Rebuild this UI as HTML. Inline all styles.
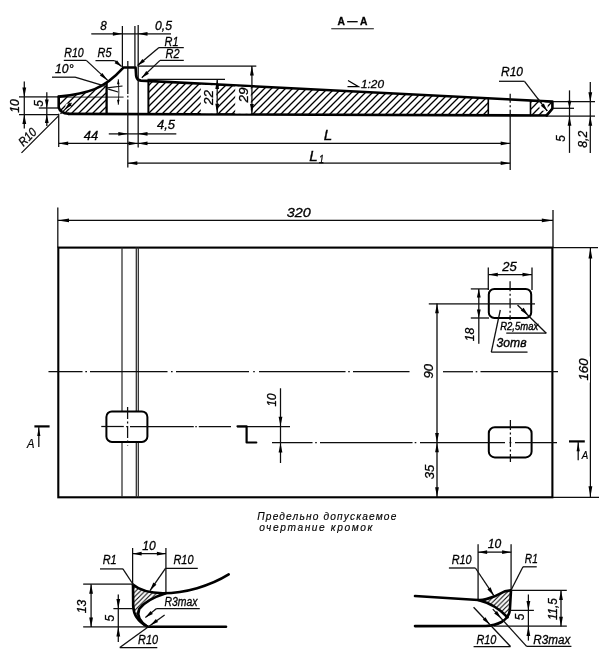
<!DOCTYPE html>
<html><head><meta charset="utf-8"><title>Drawing</title>
<style>
html,body{margin:0;padding:0;background:#fff;}
svg{display:block;font-family:"Liberation Sans",sans-serif;fill:#000;}
</style></head><body>
<svg width="605" height="656" viewBox="0 0 605 656">
<rect width="605" height="656" fill="#fff"/>
<filter id="soft" x="0" y="0" width="605" height="656" filterUnits="userSpaceOnUse"><feGaussianBlur stdDeviation="0.38"/></filter>
<g filter="url(#soft)">
<defs>
<pattern id="h" patternUnits="userSpaceOnUse" width="7" height="7" x="3" y="0"><path d="M-1,8 L8,-1 M-1,1 L1,-1 M6,8 L8,6" stroke="#000" stroke-width="1.3"/></pattern>
<pattern id="h2" patternUnits="userSpaceOnUse" width="4.6" height="4.6"><path d="M-1,5.6 L5.6,-1 M-1,1 L1,-1 M3.6,5.6 L5.6,3.6" stroke="#000" stroke-width="1.05"/></pattern>
</defs>
<path d="M58.7,96.6 Q82.5,94 94.7,89.1 Q101,86.6 106.6,83.6 L106.6,113.96724696356274 L68.5,113.83097165991903 Q60.2,113 58.7,107.3 Z" fill="url(#h)"/>
<path d="M148.4,81.0 L488.3,98.33153465346534 L488.3,115.28078947368421 L148.4,114.1110931174089 Z" fill="url(#h)"/>
<path d="M530.5,100.48331683168317 L552.4,101.6 L552.4,108.6 L546.7,115.48176113360324 L530.5,115.42601214574898 Z" fill="url(#h)"/>
<path d="M68.5,113.83097165991903 L546.7,115.48176113360324" stroke="#000" stroke-width="2.6" fill="none" stroke-linejoin="round" stroke-linecap="round" />
<path d="M68.5,113.83097165991903 Q60.2,113 58.7,107.3 L58.7,96.7" stroke="#000" stroke-width="2.6" fill="none" stroke-linejoin="round" stroke-linecap="round" />
<path d="M58.7,96.6 Q82.5,94 94.7,89.1 Q109.25,83.3 122.4,68.7 L123.4,67.5 L135.6,67.5 L136.1,75.5 Q136.6,80.2 141,80.6 L552.4,101.6 L552.4,108.6 L546.7,115.48176113360324" stroke="#000" stroke-width="2.6" fill="none" stroke-linejoin="round" stroke-linecap="round" />
<path d="M106.6,83.6 L106.6,113.96724696356274" stroke="#000" stroke-width="2.3" fill="none" stroke-linejoin="round" stroke-linecap="round" />
<path d="M148.4,81.0 L148.4,114.1110931174089" stroke="#000" stroke-width="2.0" fill="none" stroke-linejoin="round" stroke-linecap="round" />
<path d="M488.3,98.33153465346534 L488.3,115.28078947368421" stroke="#000" stroke-width="1.6" fill="none" stroke-linejoin="round" stroke-linecap="round" />
<path d="M530.5,100.48331683168317 L530.5,115.42601214574898" stroke="#000" stroke-width="1.6" fill="none" stroke-linejoin="round" stroke-linecap="round" />
<line x1="122.4" y1="26" x2="122.4" y2="67" stroke="#0a0a0a" stroke-width="1.25" stroke-linecap="butt"/>
<line x1="134.9" y1="26" x2="134.9" y2="67" stroke="#0a0a0a" stroke-width="1.25" stroke-linecap="butt"/>
<line x1="138.2" y1="25" x2="138.2" y2="147.5" stroke="#0a0a0a" stroke-width="1.25" stroke-linecap="butt"/>
<line x1="127.8" y1="61" x2="127.8" y2="94" stroke="#0a0a0a" stroke-width="1.25" stroke-linecap="butt"/>
<line x1="127.8" y1="95.8" x2="127.8" y2="97.4" stroke="#0a0a0a" stroke-width="1.25" stroke-linecap="butt"/>
<line x1="127.8" y1="99.5" x2="127.8" y2="167.5" stroke="#0a0a0a" stroke-width="1.25" stroke-linecap="butt"/>
<line x1="91.3" y1="33.8" x2="171" y2="33.8" stroke="#0a0a0a" stroke-width="1.25" stroke-linecap="butt"/>
<polygon points="122.40,33.80 112.90,35.70 112.90,31.90" fill="#000"/>
<polygon points="138.00,33.80 147.50,31.90 147.50,35.70" fill="#000"/>
<text x="103.5" y="30.48" font-size="12.5" font-style="italic" font-weight="normal" text-anchor="middle" stroke="#000" stroke-width="0.3" textLength="6.5" lengthAdjust="spacingAndGlyphs">8</text>
<text x="163.5" y="29.98" font-size="12.5" font-style="italic" font-weight="normal" text-anchor="middle" stroke="#000" stroke-width="0.3" textLength="17" lengthAdjust="spacingAndGlyphs">0,5</text>
<line x1="159" y1="47.6" x2="183.8" y2="47.6" stroke="#0a0a0a" stroke-width="1.25" stroke-linecap="butt"/>
<line x1="159" y1="47.6" x2="137.6" y2="65.6" stroke="#0a0a0a" stroke-width="1.25" stroke-linecap="butt"/>
<polygon points="137.60,65.60 142.39,58.92 144.88,61.79" fill="#000"/>
<text x="171.5" y="45.68" font-size="12.5" font-style="italic" font-weight="normal" text-anchor="middle" stroke="#000" stroke-width="0.3" textLength="14" lengthAdjust="spacingAndGlyphs">R1</text>
<line x1="160" y1="60.4" x2="183.8" y2="60.4" stroke="#0a0a0a" stroke-width="1.25" stroke-linecap="butt"/>
<line x1="160" y1="60.4" x2="141.8" y2="77.8" stroke="#0a0a0a" stroke-width="1.25" stroke-linecap="butt"/>
<polygon points="141.80,77.80 146.27,70.90 148.90,73.65" fill="#000"/>
<text x="172.5" y="58.48" font-size="12.5" font-style="italic" font-weight="normal" text-anchor="middle" stroke="#000" stroke-width="0.3" textLength="14" lengthAdjust="spacingAndGlyphs">R2</text>
<line x1="63.8" y1="60.4" x2="86.3" y2="60.4" stroke="#0a0a0a" stroke-width="1.25" stroke-linecap="butt"/>
<line x1="86.3" y1="60.4" x2="107.7" y2="80.4" stroke="#0a0a0a" stroke-width="1.25" stroke-linecap="butt"/>
<polygon points="107.70,80.40 99.90,75.57 102.35,72.94" fill="#000"/>
<text x="74" y="56.98" font-size="12.5" font-style="italic" font-weight="normal" text-anchor="middle" stroke="#000" stroke-width="0.3" textLength="19.5" lengthAdjust="spacingAndGlyphs">R10</text>
<line x1="95.5" y1="60.6" x2="114.5" y2="60.6" stroke="#0a0a0a" stroke-width="1.25" stroke-linecap="butt"/>
<line x1="114.5" y1="60.6" x2="121.6" y2="66.4" stroke="#0a0a0a" stroke-width="1.25" stroke-linecap="butt"/>
<polygon points="121.60,66.40 114.59,63.13 116.99,60.18" fill="#000"/>
<text x="104.5" y="56.98" font-size="12.5" font-style="italic" font-weight="normal" text-anchor="middle" stroke="#000" stroke-width="0.3" textLength="14" lengthAdjust="spacingAndGlyphs">R5</text>
<line x1="52" y1="77.2" x2="75" y2="77.2" stroke="#0a0a0a" stroke-width="1.25" stroke-linecap="butt"/>
<line x1="75" y1="77.2" x2="105" y2="86.2" stroke="#0a0a0a" stroke-width="1.25" stroke-linecap="butt"/>
<line x1="107" y1="87.9" x2="122.5" y2="86" stroke="#0a0a0a" stroke-width="1.25" stroke-linecap="butt"/>
<line x1="108.3" y1="89.1" x2="118.2" y2="92" stroke="#0a0a0a" stroke-width="1.25" stroke-linecap="butt"/>
<line x1="58.7" y1="97.1" x2="123.6" y2="97.1" stroke="#0a0a0a" stroke-width="0.9" stroke-linecap="butt"/>
<path d="M118.3,79.2 Q119.4,92 118.3,104.8" stroke="#111" stroke-width="0.9" fill="none"/>
<polygon points="118.30,79.20 119.60,84.20 117.00,84.20" fill="#000"/>
<polygon points="118.30,104.80 117.00,99.80 119.60,99.80" fill="#000"/>
<text x="64.3" y="73.47" font-size="12.5" font-style="italic" font-weight="normal" text-anchor="middle" stroke="#000" stroke-width="0.3" textLength="18.5" lengthAdjust="spacingAndGlyphs">10°</text>
<line x1="138" y1="66.0" x2="256.3" y2="66.0" stroke="#0a0a0a" stroke-width="1.25" stroke-linecap="butt"/>
<line x1="147.5" y1="79.4" x2="225" y2="79.4" stroke="#0a0a0a" stroke-width="1.25" stroke-linecap="butt"/>
<path d="M200.8,84.67188118811882 L216.4,85.46732673267327 L216.4,113.34372469635628 L200.8,113.28866396761133 Z" fill="#fff"/>
<text x="208.4" y="102.07" font-size="12.5" font-style="italic" font-weight="normal" text-anchor="middle" stroke="#000" stroke-width="0.3" textLength="15" lengthAdjust="spacingAndGlyphs" transform="rotate(-90 208.4 97.6)">22</text>
<path d="M235.2,86.4259405940594 L250.8,87.22138613861387 L250.8,113.46072874493927 L235.2,113.40910931174089 Z" fill="#fff"/>
<text x="243.7" y="99.47" font-size="12.5" font-style="italic" font-weight="normal" text-anchor="middle" stroke="#000" stroke-width="0.3" textLength="15" lengthAdjust="spacingAndGlyphs" transform="rotate(-90 243.7 95)">29</text>
<line x1="217.2" y1="79.4" x2="217.2" y2="114.35060728744939" stroke="#0a0a0a" stroke-width="1.25" stroke-linecap="butt"/>
<polygon points="217.20,79.40 219.10,88.90 215.30,88.90" fill="#000"/>
<polygon points="217.20,113.35 215.30,103.85 219.10,103.85" fill="#000"/>
<line x1="251.9" y1="66" x2="251.9" y2="114.46933198380566" stroke="#0a0a0a" stroke-width="1.25" stroke-linecap="butt"/>
<polygon points="251.90,66.00 253.80,75.50 250.00,75.50" fill="#000"/>
<polygon points="251.90,113.47 250.00,103.97 253.80,103.97" fill="#000"/>
<path d="M348,80.6 L358.5,86.7 L347.5,86.7" stroke="#000" stroke-width="1.2" fill="none"/>
<text x="372.5" y="87.62" font-size="11.5" font-style="italic" font-weight="normal" text-anchor="middle" stroke="#000" stroke-width="0.3" textLength="23" lengthAdjust="spacingAndGlyphs">1:20</text>
<text x="352.5" y="25.06" font-size="10.5" font-style="normal" font-weight="bold" text-anchor="middle" stroke="#000" stroke-width="0.3" textLength="30" lengthAdjust="spacingAndGlyphs">A — A</text>
<line x1="331.3" y1="28.8" x2="373.8" y2="28.8" stroke="#0a0a0a" stroke-width="1.1" stroke-linecap="butt"/>
<line x1="19" y1="96.9" x2="58.7" y2="96.9" stroke="#0a0a0a" stroke-width="1.25" stroke-linecap="butt"/>
<line x1="19" y1="114.6" x2="58.7" y2="114.6" stroke="#0a0a0a" stroke-width="1.25" stroke-linecap="butt"/>
<line x1="24.3" y1="81.5" x2="24.3" y2="128.6" stroke="#0a0a0a" stroke-width="1.25" stroke-linecap="butt"/>
<polygon points="24.30,96.90 22.40,87.40 26.20,87.40" fill="#000"/>
<polygon points="24.30,114.60 26.20,124.10 22.40,124.10" fill="#000"/>
<text x="14.3" y="110.47" font-size="12.5" font-style="italic" font-weight="normal" text-anchor="middle" stroke="#000" stroke-width="0.3" textLength="13.5" lengthAdjust="spacingAndGlyphs" transform="rotate(-90 14.3 106)">10</text>
<line x1="38.8" y1="108" x2="58.7" y2="108" stroke="#0a0a0a" stroke-width="1.25" stroke-linecap="butt"/>
<line x1="46.8" y1="92.2" x2="46.8" y2="126" stroke="#0a0a0a" stroke-width="1.25" stroke-linecap="butt"/>
<polygon points="46.80,108.00 44.90,99.50 48.70,99.50" fill="#000"/>
<polygon points="46.80,114.60 48.70,123.10 44.90,123.10" fill="#000"/>
<text x="38.5" y="107.97" font-size="12.5" font-style="italic" font-weight="normal" text-anchor="middle" stroke="#000" stroke-width="0.3" textLength="6.5" lengthAdjust="spacingAndGlyphs" transform="rotate(-90 38.5 103.5)">5</text>
<line x1="21.5" y1="152.9" x2="58.5" y2="115.9" stroke="#0a0a0a" stroke-width="1.25" stroke-linecap="butt"/>
<circle cx="68" cy="106" r="2.6" fill="#fff"/>
<line x1="60.5" y1="113.9" x2="71.5" y2="102.9" stroke="#0a0a0a" stroke-width="1.25" stroke-linecap="butt"/>
<polygon points="64.80,109.60 69.04,102.53 71.87,105.36" fill="#000"/>
<text x="27.3" y="141.38" font-size="12.5" font-style="italic" font-weight="normal" text-anchor="middle" stroke="#000" stroke-width="0.3" textLength="19.5" lengthAdjust="spacingAndGlyphs" transform="rotate(-45 27.3 136.9)">R10</text>
<line x1="58.7" y1="113.80240890688259" x2="58.7" y2="147" stroke="#0a0a0a" stroke-width="1.25" stroke-linecap="butt"/>
<line x1="58.7" y1="143.4" x2="510.2" y2="143.4" stroke="#0a0a0a" stroke-width="1.25" stroke-linecap="butt"/>
<polygon points="58.70,143.40 68.20,141.50 68.20,145.30" fill="#000"/>
<polygon points="138.00,143.40 128.50,145.30 128.50,141.50" fill="#000"/>
<polygon points="138.00,143.40 147.50,141.50 147.50,145.30" fill="#000"/>
<polygon points="510.20,143.40 500.70,145.30 500.70,141.50" fill="#000"/>
<text x="91" y="140.07" font-size="12.5" font-style="italic" font-weight="normal" text-anchor="middle" stroke="#000" stroke-width="0.3" textLength="14.5" lengthAdjust="spacingAndGlyphs">44</text>
<line x1="108.8" y1="133.8" x2="176.3" y2="133.8" stroke="#0a0a0a" stroke-width="1.25" stroke-linecap="butt"/>
<polygon points="127.80,133.80 118.30,135.70 118.30,131.90" fill="#000"/>
<polygon points="138.00,133.80 147.50,131.90 147.50,135.70" fill="#000"/>
<text x="166" y="129.47" font-size="12.5" font-style="italic" font-weight="normal" text-anchor="middle" stroke="#000" stroke-width="0.3" textLength="18" lengthAdjust="spacingAndGlyphs">4,5</text>
<line x1="127.8" y1="163.2" x2="510.2" y2="163.2" stroke="#0a0a0a" stroke-width="1.25" stroke-linecap="butt"/>
<polygon points="127.80,163.20 137.30,161.30 137.30,165.10" fill="#000"/>
<polygon points="510.20,163.20 500.70,165.10 500.70,161.30" fill="#000"/>
<text x="328" y="139.87" font-size="15" font-style="italic" font-weight="normal" text-anchor="middle" stroke="#000" stroke-width="0.35" textLength="8.5" lengthAdjust="spacingAndGlyphs">L</text>
<text x="313.5" y="160.87" font-size="15" font-style="italic" font-weight="normal" text-anchor="middle" stroke="#000" stroke-width="0.35" textLength="8.5" lengthAdjust="spacingAndGlyphs">L</text>
<text x="321.5" y="163.26" font-size="10.5" font-style="italic" font-weight="normal" text-anchor="middle" stroke="#000" stroke-width="0.3" textLength="5" lengthAdjust="spacingAndGlyphs">1</text>
<line x1="510.2" y1="93.8" x2="510.2" y2="116" stroke="#0a0a0a" stroke-width="1.25" stroke-linecap="butt" stroke-dasharray="9 2.5 2 2.5"/>
<line x1="510.2" y1="116" x2="510.2" y2="170" stroke="#0a0a0a" stroke-width="1.25" stroke-linecap="butt"/>
<line x1="552.6" y1="101.7" x2="595" y2="101.7" stroke="#0a0a0a" stroke-width="1.25" stroke-linecap="butt"/>
<line x1="552.6" y1="108.3" x2="574" y2="108.3" stroke="#0a0a0a" stroke-width="1.25" stroke-linecap="butt"/>
<line x1="546.7" y1="116.2" x2="595" y2="116.2" stroke="#0a0a0a" stroke-width="1.25" stroke-linecap="butt"/>
<line x1="569.5" y1="90.4" x2="569.5" y2="152.9" stroke="#0a0a0a" stroke-width="1.25" stroke-linecap="butt"/>
<polygon points="569.50,108.30 567.60,100.80 571.40,100.80" fill="#000"/>
<polygon points="569.50,116.20 571.40,125.70 567.60,125.70" fill="#000"/>
<line x1="590.3" y1="82" x2="590.3" y2="152.9" stroke="#0a0a0a" stroke-width="1.25" stroke-linecap="butt"/>
<polygon points="590.30,101.70 588.40,92.20 592.20,92.20" fill="#000"/>
<polygon points="590.30,116.20 592.20,125.70 588.40,125.70" fill="#000"/>
<text x="560.2" y="142.97" font-size="12.5" font-style="italic" font-weight="normal" text-anchor="middle" stroke="#000" stroke-width="0.3" textLength="6.5" lengthAdjust="spacingAndGlyphs" transform="rotate(-90 560.2 138.5)">5</text>
<text x="582.8" y="143.78" font-size="12.5" font-style="italic" font-weight="normal" text-anchor="middle" stroke="#000" stroke-width="0.3" textLength="17" lengthAdjust="spacingAndGlyphs" transform="rotate(-90 582.8 139.3)">8,2</text>
<line x1="499" y1="81.3" x2="524.5" y2="81.3" stroke="#0a0a0a" stroke-width="1.25" stroke-linecap="butt"/>
<line x1="524.5" y1="81.3" x2="547.2" y2="110.9" stroke="#0a0a0a" stroke-width="1.25" stroke-linecap="butt"/>
<circle cx="543.5" cy="106.5" r="4.2" fill="#fff"/>
<line x1="538" y1="98.9" x2="547.2" y2="110.9" stroke="#0a0a0a" stroke-width="1.25" stroke-linecap="butt"/>
<polygon points="547.20,110.90 540.82,105.71 543.84,103.40" fill="#000"/>
<text x="512" y="75.97" font-size="12.5" font-style="italic" font-weight="normal" text-anchor="middle" stroke="#000" stroke-width="0.3" textLength="22" lengthAdjust="spacingAndGlyphs">R10</text>
<rect x="58.3" y="247.6" width="494.09999999999997" height="249.70000000000002" fill="none" stroke="#000" stroke-width="2.1"/>
<line x1="122" y1="247.6" x2="122" y2="497.3" stroke="#2a2a2a" stroke-width="1.25" stroke-linecap="butt"/>
<line x1="136.3" y1="247.6" x2="136.3" y2="497.3" stroke="#2a2a2a" stroke-width="1.25" stroke-linecap="butt"/>
<line x1="138.3" y1="247.6" x2="138.3" y2="497.3" stroke="#2a2a2a" stroke-width="1.25" stroke-linecap="butt"/>
<rect x="106.4" y="411.4" width="41.0" height="30.5" rx="5.5" ry="5.5" fill="#fff" stroke="#000" stroke-width="2.0"/>
<rect x="488.8" y="288.9" width="42.400000000000034" height="29.0" rx="5.5" ry="5.5" fill="#fff" stroke="#000" stroke-width="2.0"/>
<rect x="488.8" y="427.2" width="42.80000000000001" height="30.19999999999999" rx="6" ry="6" fill="#fff" stroke="#000" stroke-width="2.0"/>
<line x1="48.5" y1="371.7" x2="82.5" y2="371.7" stroke="#0a0a0a" stroke-width="1.25" stroke-linecap="butt"/>
<line x1="85.3" y1="371.7" x2="87" y2="371.7" stroke="#0a0a0a" stroke-width="1.25" stroke-linecap="butt"/>
<line x1="90" y1="371.7" x2="167.5" y2="371.7" stroke="#0a0a0a" stroke-width="1.25" stroke-linecap="butt"/>
<line x1="171" y1="371.7" x2="172.6" y2="371.7" stroke="#0a0a0a" stroke-width="1.25" stroke-linecap="butt"/>
<line x1="176" y1="371.7" x2="249" y2="371.7" stroke="#0a0a0a" stroke-width="1.25" stroke-linecap="butt"/>
<line x1="253.2" y1="371.7" x2="254.8" y2="371.7" stroke="#0a0a0a" stroke-width="1.25" stroke-linecap="butt"/>
<line x1="259" y1="371.7" x2="345.5" y2="371.7" stroke="#0a0a0a" stroke-width="1.25" stroke-linecap="butt"/>
<line x1="348.2" y1="371.7" x2="349.8" y2="371.7" stroke="#0a0a0a" stroke-width="1.25" stroke-linecap="butt"/>
<line x1="353" y1="371.7" x2="409.5" y2="371.7" stroke="#0a0a0a" stroke-width="1.25" stroke-linecap="butt"/>
<line x1="443" y1="371.7" x2="473" y2="371.7" stroke="#0a0a0a" stroke-width="1.25" stroke-linecap="butt"/>
<line x1="475.7" y1="371.7" x2="477.3" y2="371.7" stroke="#0a0a0a" stroke-width="1.25" stroke-linecap="butt"/>
<line x1="480.5" y1="371.7" x2="558" y2="371.7" stroke="#0a0a0a" stroke-width="1.25" stroke-linecap="butt"/>
<line x1="57.8" y1="207.5" x2="57.8" y2="247.6" stroke="#0a0a0a" stroke-width="1.25" stroke-linecap="butt"/>
<line x1="553" y1="210" x2="553" y2="247.6" stroke="#0a0a0a" stroke-width="1.25" stroke-linecap="butt"/>
<line x1="57.8" y1="220.4" x2="553" y2="220.4" stroke="#0a0a0a" stroke-width="1.25" stroke-linecap="butt"/>
<polygon points="58.00,220.40 69.00,218.50 69.00,222.30" fill="#000"/>
<polygon points="552.80,220.40 541.80,222.30 541.80,218.50" fill="#000"/>
<text x="298.8" y="216.65" font-size="13" font-style="italic" font-weight="normal" text-anchor="middle" stroke="#000" stroke-width="0.3" textLength="24" lengthAdjust="spacingAndGlyphs">320</text>
<line x1="553" y1="247.6" x2="598" y2="247.6" stroke="#0a0a0a" stroke-width="1.25" stroke-linecap="butt"/>
<line x1="553" y1="497.3" x2="599" y2="497.3" stroke="#0a0a0a" stroke-width="1.25" stroke-linecap="butt"/>
<line x1="590.4" y1="247.6" x2="590.4" y2="497.3" stroke="#0a0a0a" stroke-width="1.25" stroke-linecap="butt"/>
<polygon points="590.40,247.60 592.30,258.60 588.50,258.60" fill="#000"/>
<polygon points="590.40,497.30 588.50,486.30 592.30,486.30" fill="#000"/>
<rect x="570.5" y="363.0" width="26" height="13" fill="#fff" transform="rotate(-90 583.5 369.5)"/>
<text x="583.5" y="374.15" font-size="13" font-style="italic" font-weight="normal" text-anchor="middle" stroke="#000" stroke-width="0.3" textLength="22" lengthAdjust="spacingAndGlyphs" transform="rotate(-90 583.5 369.5)">160</text>
<line x1="101.3" y1="426.5" x2="123.8" y2="426.5" stroke="#0a0a0a" stroke-width="1.25" stroke-linecap="butt"/>
<line x1="126.2" y1="426.5" x2="127.8" y2="426.5" stroke="#0a0a0a" stroke-width="1.25" stroke-linecap="butt"/>
<line x1="130" y1="426.5" x2="193.8" y2="426.5" stroke="#0a0a0a" stroke-width="1.25" stroke-linecap="butt"/>
<line x1="195.3" y1="426.5" x2="196.8" y2="426.5" stroke="#0a0a0a" stroke-width="1.25" stroke-linecap="butt"/>
<line x1="198.8" y1="426.5" x2="231" y2="426.5" stroke="#0a0a0a" stroke-width="1.25" stroke-linecap="butt"/>
<line x1="237" y1="426.5" x2="290" y2="426.5" stroke="#0a0a0a" stroke-width="1.25" stroke-linecap="butt"/>
<line x1="127.6" y1="407" x2="127.6" y2="445.5" stroke="#0a0a0a" stroke-width="1.25" stroke-linecap="butt" stroke-dasharray="12 2.5 2 2.5"/>
<path d="M237.5,426.3 H246.6 V442.5 H256.3" stroke="#000" stroke-width="2.2" fill="none" stroke-linejoin="round" stroke-linecap="round" />
<line x1="272" y1="442.6" x2="312.5" y2="442.6" stroke="#0a0a0a" stroke-width="1.25" stroke-linecap="butt"/>
<line x1="315.2" y1="442.6" x2="316.8" y2="442.6" stroke="#0a0a0a" stroke-width="1.25" stroke-linecap="butt"/>
<line x1="320" y1="442.6" x2="412.5" y2="442.6" stroke="#0a0a0a" stroke-width="1.25" stroke-linecap="butt"/>
<line x1="414.7" y1="442.6" x2="416.3" y2="442.6" stroke="#0a0a0a" stroke-width="1.25" stroke-linecap="butt"/>
<line x1="420" y1="442.6" x2="505" y2="442.6" stroke="#0a0a0a" stroke-width="1.25" stroke-linecap="butt"/>
<line x1="509.5" y1="442.6" x2="511.3" y2="442.6" stroke="#0a0a0a" stroke-width="1.25" stroke-linecap="butt"/>
<line x1="515" y1="442.6" x2="557" y2="442.6" stroke="#0a0a0a" stroke-width="1.25" stroke-linecap="butt"/>
<line x1="280.5" y1="388.3" x2="280.5" y2="463" stroke="#0a0a0a" stroke-width="1.25" stroke-linecap="butt"/>
<polygon points="280.50,426.30 278.60,416.80 282.40,416.80" fill="#000"/>
<polygon points="280.50,443.00 282.40,452.50 278.60,452.50" fill="#000"/>
<text x="272" y="404.48" font-size="12.5" font-style="italic" font-weight="normal" text-anchor="middle" stroke="#000" stroke-width="0.3" textLength="13" lengthAdjust="spacingAndGlyphs" transform="rotate(-90 272 400)">10</text>
<line x1="488.3" y1="267.5" x2="488.3" y2="290" stroke="#0a0a0a" stroke-width="1.25" stroke-linecap="butt"/>
<line x1="532" y1="267.5" x2="532" y2="290" stroke="#0a0a0a" stroke-width="1.25" stroke-linecap="butt"/>
<line x1="488.3" y1="274.6" x2="532" y2="274.6" stroke="#0a0a0a" stroke-width="1.25" stroke-linecap="butt"/>
<polygon points="488.30,274.60 497.80,272.70 497.80,276.50" fill="#000"/>
<polygon points="532.00,274.60 522.50,276.50 522.50,272.70" fill="#000"/>
<text x="509.5" y="270.78" font-size="12.5" font-style="italic" font-weight="normal" text-anchor="middle" stroke="#000" stroke-width="0.3" textLength="14.5" lengthAdjust="spacingAndGlyphs">25</text>
<line x1="428.8" y1="303.8" x2="535" y2="303.8" stroke="#0a0a0a" stroke-width="1.25" stroke-linecap="butt"/>
<line x1="510.1" y1="281.3" x2="510.1" y2="320" stroke="#0a0a0a" stroke-width="1.25" stroke-linecap="butt" stroke-dasharray="10 2.5 2 2.5"/>
<line x1="470.8" y1="288.9" x2="489" y2="288.9" stroke="#0a0a0a" stroke-width="1.25" stroke-linecap="butt"/>
<line x1="470.8" y1="318" x2="489" y2="318" stroke="#0a0a0a" stroke-width="1.25" stroke-linecap="butt"/>
<line x1="478.8" y1="288.9" x2="478.8" y2="343.8" stroke="#0a0a0a" stroke-width="1.25" stroke-linecap="butt"/>
<polygon points="478.80,288.90 480.70,297.40 476.90,297.40" fill="#000"/>
<polygon points="478.80,318.00 476.90,309.50 480.70,309.50" fill="#000"/>
<text x="470" y="338.98" font-size="12.5" font-style="italic" font-weight="normal" text-anchor="middle" stroke="#000" stroke-width="0.3" textLength="13.5" lengthAdjust="spacingAndGlyphs" transform="rotate(-90 470 334.5)">18</text>
<line x1="506.3" y1="333.2" x2="546.3" y2="333.2" stroke="#0a0a0a" stroke-width="1.25" stroke-linecap="butt"/>
<line x1="546.3" y1="333.2" x2="517.5" y2="305" stroke="#0a0a0a" stroke-width="1.25" stroke-linecap="butt"/>
<polygon points="528.20,315.20 520.78,310.60 523.60,307.78" fill="#000"/>
<text x="519.2" y="330.32" font-size="11.5" font-style="italic" font-weight="normal" text-anchor="middle" stroke="#000" stroke-width="0.4" textLength="38" lengthAdjust="spacingAndGlyphs">R2,5max</text>
<line x1="491.3" y1="352.2" x2="527.5" y2="352.2" stroke="#0a0a0a" stroke-width="1.25" stroke-linecap="butt"/>
<line x1="491.3" y1="352.2" x2="500.3" y2="310" stroke="#0a0a0a" stroke-width="1.25" stroke-linecap="butt"/>
<text x="511.6" y="347.30" font-size="12" font-style="italic" font-weight="normal" text-anchor="middle" stroke="#000" stroke-width="0.35" textLength="30" lengthAdjust="spacingAndGlyphs">3отв</text>
<line x1="437" y1="303.8" x2="437" y2="497.3" stroke="#0a0a0a" stroke-width="1.25" stroke-linecap="butt"/>
<polygon points="437.00,303.80 438.90,313.30 435.10,313.30" fill="#000"/>
<polygon points="437.00,442.40 435.10,432.90 438.90,432.90" fill="#000"/>
<polygon points="437.00,442.80 438.90,452.30 435.10,452.30" fill="#000"/>
<polygon points="437.00,496.80 435.10,487.30 438.90,487.30" fill="#000"/>
<text x="428.8" y="375.78" font-size="12.5" font-style="italic" font-weight="normal" text-anchor="middle" stroke="#000" stroke-width="0.3" textLength="14.5" lengthAdjust="spacingAndGlyphs" transform="rotate(-90 428.8 371.3)">90</text>
<text x="429.5" y="476.48" font-size="12.5" font-style="italic" font-weight="normal" text-anchor="middle" stroke="#000" stroke-width="0.3" textLength="14.5" lengthAdjust="spacingAndGlyphs" transform="rotate(-90 429.5 472)">35</text>
<line x1="510.4" y1="420" x2="510.4" y2="462" stroke="#0a0a0a" stroke-width="1.25" stroke-linecap="butt" stroke-dasharray="10 2.5 2 2.5"/>
<line x1="34.4" y1="426.4" x2="49.6" y2="426.4" stroke="#000" stroke-width="2.2" stroke-linecap="butt"/>
<line x1="38.8" y1="426.4" x2="38.8" y2="447" stroke="#0a0a0a" stroke-width="1.25" stroke-linecap="butt"/>
<polygon points="38.80,427.60 40.40,436.10 37.20,436.10" fill="#000"/>
<text x="30.8" y="447.68" font-size="12.5" font-style="italic" font-weight="normal" text-anchor="middle" stroke="#000" stroke-width="0.2" textLength="7.5" lengthAdjust="spacingAndGlyphs">A</text>
<line x1="569" y1="441.4" x2="584.8" y2="441.4" stroke="#000" stroke-width="2.2" stroke-linecap="butt"/>
<line x1="578.2" y1="441.4" x2="578.2" y2="460.3" stroke="#0a0a0a" stroke-width="1.25" stroke-linecap="butt"/>
<polygon points="578.20,442.80 579.80,451.30 576.60,451.30" fill="#000"/>
<text x="584.9" y="459.42" font-size="11.5" font-style="italic" font-weight="normal" text-anchor="middle" stroke="#000" stroke-width="0.2" textLength="6.5" lengthAdjust="spacingAndGlyphs">A</text>
<text x="257.3" y="519.75" font-size="10.2" font-style="italic" font-weight="normal" text-anchor="start" stroke="#000" stroke-width="0.15" textLength="139" lengthAdjust="spacing">Предельно допускаемое</text>
<text x="259.3" y="530.75" font-size="10.2" font-style="italic" font-weight="normal" text-anchor="start" stroke="#000" stroke-width="0.15" textLength="113" lengthAdjust="spacing">очертание кромок</text>
<path d="M132.8,584.6 Q141,590.5 150,592.4 Q158,593.6 165.9,593.2 Q157,595 148,600.2 Q139.5,606 137.8,612.5 Q137.6,620 147.2,626.6 Q134,618 133.2,606 Z" fill="url(#h2)"/>
<path d="M132.8,584.6 C138,589 148,593.2 163,593.2 C185,593.2 210,586 228.7,574.4" stroke="#000" stroke-width="2.6" fill="none" stroke-linejoin="round" stroke-linecap="round" />
<path d="M133,585 L133.2,606 C133.4,614 137,621 147.2,626.6" stroke="#000" stroke-width="2.6" fill="none" stroke-linejoin="round" stroke-linecap="round" />
<path d="M165.9,593.2 Q146,599.4 139.2,609 Q135.5,618.5 147.2,626.6" stroke="#000" stroke-width="2.6" fill="none" stroke-linejoin="round" stroke-linecap="round" />
<path d="M147.2,626.8 L226,626.8" stroke="#000" stroke-width="2.6" fill="none" stroke-linejoin="round" stroke-linecap="round" />
<line x1="83.2" y1="626.9" x2="147.2" y2="626.9" stroke="#0a0a0a" stroke-width="1.25" stroke-linecap="butt"/>
<line x1="83.2" y1="584.2" x2="132.6" y2="584.2" stroke="#0a0a0a" stroke-width="1.25" stroke-linecap="butt"/>
<line x1="132.6" y1="548" x2="132.6" y2="584.4" stroke="#0a0a0a" stroke-width="1.25" stroke-linecap="butt"/>
<line x1="165.9" y1="548" x2="165.9" y2="592.7" stroke="#0a0a0a" stroke-width="1.25" stroke-linecap="butt"/>
<line x1="132.6" y1="553.7" x2="165.9" y2="553.7" stroke="#0a0a0a" stroke-width="1.25" stroke-linecap="butt"/>
<polygon points="132.60,553.70 141.60,551.80 141.60,555.60" fill="#000"/>
<polygon points="165.90,553.70 156.90,555.60 156.90,551.80" fill="#000"/>
<text x="149" y="550.48" font-size="12.5" font-style="italic" font-weight="normal" text-anchor="middle" stroke="#000" stroke-width="0.3" textLength="13.5" lengthAdjust="spacingAndGlyphs">10</text>
<line x1="91.1" y1="584.2" x2="91.1" y2="626.9" stroke="#0a0a0a" stroke-width="1.25" stroke-linecap="butt"/>
<polygon points="91.10,584.20 93.00,593.70 89.20,593.70" fill="#000"/>
<polygon points="91.10,626.90 89.20,617.40 93.00,617.40" fill="#000"/>
<text x="81.3" y="610.88" font-size="12.5" font-style="italic" font-weight="normal" text-anchor="middle" stroke="#000" stroke-width="0.3" textLength="13.5" lengthAdjust="spacingAndGlyphs" transform="rotate(-90 81.3 606.4)">13</text>
<line x1="113.4" y1="608.6" x2="133.5" y2="608.6" stroke="#0a0a0a" stroke-width="1.25" stroke-linecap="butt"/>
<line x1="118.3" y1="594.5" x2="118.3" y2="642" stroke="#0a0a0a" stroke-width="1.25" stroke-linecap="butt"/>
<polygon points="118.30,608.60 116.40,599.10 120.20,599.10" fill="#000"/>
<polygon points="118.30,626.90 120.20,636.40 116.40,636.40" fill="#000"/>
<text x="109.7" y="622.77" font-size="12.5" font-style="italic" font-weight="normal" text-anchor="middle" stroke="#000" stroke-width="0.3" textLength="6.5" lengthAdjust="spacingAndGlyphs" transform="rotate(-90 109.7 618.3)">5</text>
<line x1="100" y1="568.9" x2="122.9" y2="568.9" stroke="#0a0a0a" stroke-width="1.25" stroke-linecap="butt"/>
<line x1="122.9" y1="568.9" x2="133.5" y2="585" stroke="#0a0a0a" stroke-width="1.25" stroke-linecap="butt"/>
<text x="109.7" y="564.27" font-size="12.5" font-style="italic" font-weight="normal" text-anchor="middle" stroke="#000" stroke-width="0.3" textLength="14" lengthAdjust="spacingAndGlyphs">R1</text>
<line x1="165.5" y1="568.4" x2="197.8" y2="568.4" stroke="#0a0a0a" stroke-width="1.25" stroke-linecap="butt"/>
<line x1="165.5" y1="568.4" x2="150" y2="590.6" stroke="#0a0a0a" stroke-width="1.25" stroke-linecap="butt"/>
<polygon points="150.00,590.60 153.31,582.54 156.42,584.72" fill="#000"/>
<text x="183.5" y="563.98" font-size="12.5" font-style="italic" font-weight="normal" text-anchor="middle" stroke="#000" stroke-width="0.3" textLength="20" lengthAdjust="spacingAndGlyphs">R10</text>
<line x1="156.6" y1="608.6" x2="199.8" y2="608.6" stroke="#0a0a0a" stroke-width="1.25" stroke-linecap="butt"/>
<line x1="156.6" y1="608.6" x2="145.4" y2="617.4" stroke="#0a0a0a" stroke-width="1.25" stroke-linecap="butt"/>
<polygon points="145.40,617.40 150.52,610.96 152.86,613.95" fill="#000"/>
<text x="181" y="605.70" font-size="12" font-style="italic" font-weight="normal" text-anchor="middle" stroke="#000" stroke-width="0.3" textLength="33" lengthAdjust="spacingAndGlyphs">R3max</text>
<line x1="119.8" y1="647.5" x2="157.3" y2="647.5" stroke="#0a0a0a" stroke-width="1.25" stroke-linecap="butt"/>
<line x1="119.8" y1="647.5" x2="164.6" y2="615" stroke="#0a0a0a" stroke-width="1.25" stroke-linecap="butt"/>
<polygon points="150.50,625.20 155.86,618.96 158.09,622.04" fill="#000"/>
<text x="148.1" y="643.77" font-size="12.5" font-style="italic" font-weight="normal" text-anchor="middle" stroke="#000" stroke-width="0.3" textLength="20" lengthAdjust="spacingAndGlyphs">R10</text>
<path d="M483,600 L504.7,591.4 L511,590.3 L509.9,611.5 Q509.5,615 507.6,617.2 Q500,609.5 483,600 Z" fill="url(#h2)"/>
<path d="M415,596 L478.1,600 Q484,600.6 494.6,596.3 L504.7,591.4 L511,590.3" stroke="#000" stroke-width="2.6" fill="none" stroke-linejoin="round" stroke-linecap="round" />
<path d="M511,590.3 L509.9,609.5 C509.4,615.5 506,619.5 501.5,622 C497,624.4 492.5,625.8 486,626 L415,626.1" stroke="#000" stroke-width="2.6" fill="none" stroke-linejoin="round" stroke-linecap="round" />
<path d="M478.1,600 Q496,604.5 507.6,617.4" stroke="#000" stroke-width="2.6" fill="none" stroke-linejoin="round" stroke-linecap="round" />
<line x1="478.1" y1="544.2" x2="478.1" y2="599" stroke="#0a0a0a" stroke-width="1.25" stroke-linecap="butt"/>
<line x1="511.1" y1="544.2" x2="511.1" y2="590" stroke="#0a0a0a" stroke-width="1.25" stroke-linecap="butt"/>
<line x1="478.1" y1="552.2" x2="511.1" y2="552.2" stroke="#0a0a0a" stroke-width="1.25" stroke-linecap="butt"/>
<polygon points="478.10,552.20 487.10,550.30 487.10,554.10" fill="#000"/>
<polygon points="511.10,552.20 502.10,554.10 502.10,550.30" fill="#000"/>
<text x="494.6" y="547.98" font-size="12.5" font-style="italic" font-weight="normal" text-anchor="middle" stroke="#000" stroke-width="0.3" textLength="13.5" lengthAdjust="spacingAndGlyphs">10</text>
<line x1="448.9" y1="568" x2="475.4" y2="568" stroke="#0a0a0a" stroke-width="1.25" stroke-linecap="butt"/>
<line x1="475.4" y1="568" x2="493.7" y2="595.4" stroke="#0a0a0a" stroke-width="1.25" stroke-linecap="butt"/>
<polygon points="493.70,595.40 487.40,589.39 490.56,587.28" fill="#000"/>
<text x="461.7" y="564.27" font-size="12.5" font-style="italic" font-weight="normal" text-anchor="middle" stroke="#000" stroke-width="0.3" textLength="20" lengthAdjust="spacingAndGlyphs">R10</text>
<line x1="523" y1="566.8" x2="536.7" y2="566.8" stroke="#0a0a0a" stroke-width="1.25" stroke-linecap="butt"/>
<line x1="523" y1="566.8" x2="511.1" y2="590" stroke="#0a0a0a" stroke-width="1.25" stroke-linecap="butt"/>
<text x="531.3" y="563.38" font-size="12.5" font-style="italic" font-weight="normal" text-anchor="middle" stroke="#000" stroke-width="0.3" textLength="13" lengthAdjust="spacingAndGlyphs">R1</text>
<line x1="511.1" y1="590.4" x2="566.8" y2="590.4" stroke="#0a0a0a" stroke-width="1.25" stroke-linecap="butt"/>
<line x1="510.2" y1="610.4" x2="533.9" y2="610.4" stroke="#0a0a0a" stroke-width="1.25" stroke-linecap="butt"/>
<line x1="493.7" y1="626.2" x2="566.8" y2="626.2" stroke="#0a0a0a" stroke-width="1.25" stroke-linecap="butt"/>
<line x1="528.4" y1="594.5" x2="528.4" y2="640.6" stroke="#0a0a0a" stroke-width="1.25" stroke-linecap="butt"/>
<polygon points="528.40,610.40 526.50,600.90 530.30,600.90" fill="#000"/>
<polygon points="528.40,626.40 530.30,635.90 526.50,635.90" fill="#000"/>
<text x="519.6" y="621.48" font-size="12.5" font-style="italic" font-weight="normal" text-anchor="middle" stroke="#000" stroke-width="0.3" textLength="6.5" lengthAdjust="spacingAndGlyphs" transform="rotate(-90 519.6 617)">5</text>
<line x1="561" y1="590.4" x2="561" y2="626.2" stroke="#0a0a0a" stroke-width="1.25" stroke-linecap="butt"/>
<polygon points="561.00,590.40 562.90,599.90 559.10,599.90" fill="#000"/>
<polygon points="561.00,626.20 559.10,616.70 562.90,616.70" fill="#000"/>
<text x="552.2" y="613.58" font-size="12.5" font-style="italic" font-weight="normal" text-anchor="middle" stroke="#000" stroke-width="0.3" textLength="22" lengthAdjust="spacingAndGlyphs" transform="rotate(-90 552.2 609.1)">11,5</text>
<line x1="526.6" y1="646.3" x2="571.4" y2="646.3" stroke="#0a0a0a" stroke-width="1.25" stroke-linecap="butt"/>
<line x1="526.6" y1="646.3" x2="492.8" y2="609.1" stroke="#0a0a0a" stroke-width="1.25" stroke-linecap="butt"/>
<polygon points="501.00,618.20 494.21,613.56 497.03,611.00" fill="#000"/>
<text x="551.8" y="643.90" font-size="12" font-style="italic" font-weight="normal" text-anchor="middle" stroke="#000" stroke-width="0.3" textLength="37" lengthAdjust="spacingAndGlyphs">R3max</text>
<line x1="473.6" y1="646.5" x2="510.5" y2="646.5" stroke="#0a0a0a" stroke-width="1.25" stroke-linecap="butt"/>
<line x1="510.5" y1="646.5" x2="473.6" y2="607.3" stroke="#0a0a0a" stroke-width="1.25" stroke-linecap="butt"/>
<polygon points="489.60,624.30 482.73,619.78 485.50,617.17" fill="#000"/>
<text x="486.4" y="644.48" font-size="12.5" font-style="italic" font-weight="normal" text-anchor="middle" stroke="#000" stroke-width="0.3" textLength="20" lengthAdjust="spacingAndGlyphs">R10</text>
</g>
</svg>
</body></html>
